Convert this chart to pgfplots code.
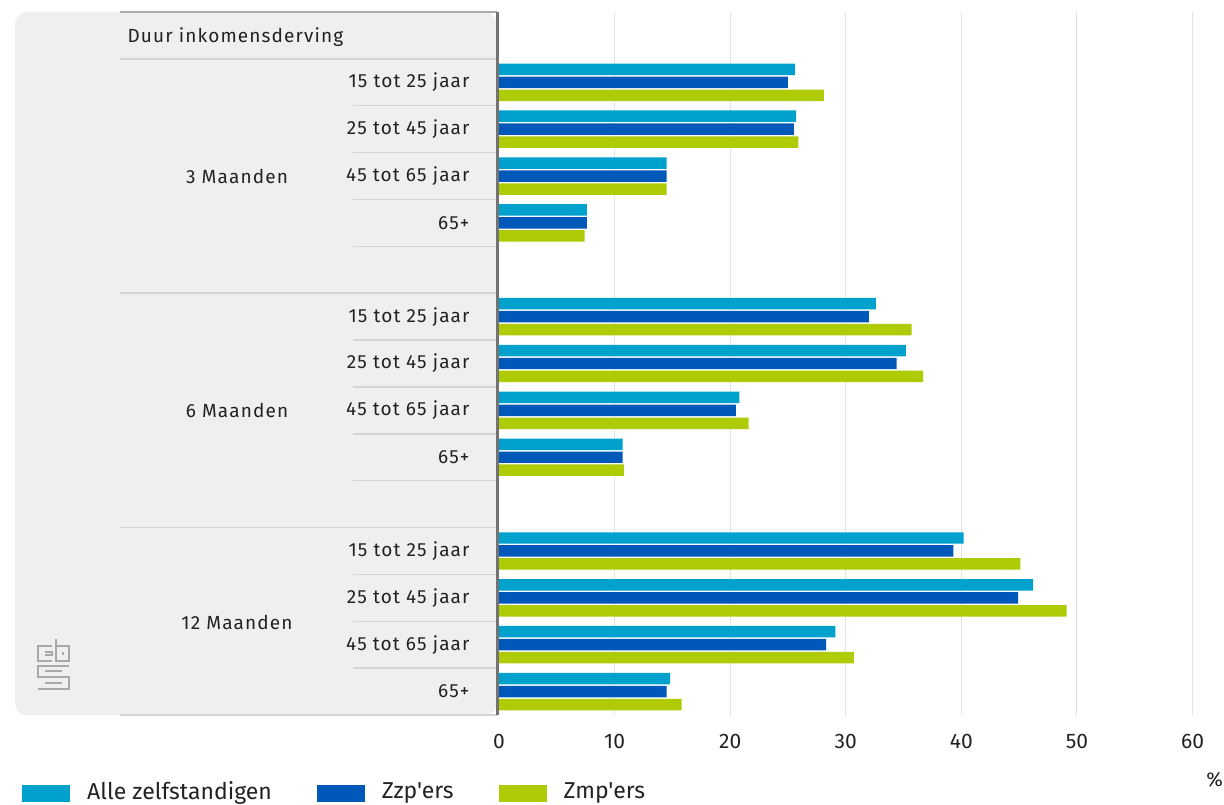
\documentclass[border=0pt]{standalone}
\usepackage{fontspec}
\setmainfont{Fira Sans}[LetterSpace=6]
\newfontfamily\plainfont{Fira Sans}
\usepackage{pgfplots}
\usepackage{pgfplotstable}
\pgfplotsset{compat=1.18}

\definecolor{cAlle}{HTML}{00A1CD}
\definecolor{cZzp}{HTML}{0058B8}
\definecolor{cZmp}{HTML}{AFCB05}
\definecolor{panel}{HTML}{EFEFEF}
\definecolor{sepc}{HTML}{D4D4D4}
\definecolor{gridc}{HTML}{E2E2E2}
\definecolor{txt}{HTML}{222222}
\definecolor{logoc}{HTML}{A8A8A8}

% pos = row slot (0-3: 3 maanden, 5-8: 6 maanden, 10-13: 12 maanden)
\pgfplotstableread{
pos alle zzp  zmp
0   25.6 25.0 28.1
1   25.7 25.5 25.9
2   14.5 14.5 14.5
3   7.6  7.6  7.4
5   32.6 32.0 35.7
6   35.2 34.4 36.7
7   20.8 20.5 21.6
8   10.7 10.7 10.8
10  40.2 39.3 45.1
11  46.2 44.9 49.1
12  29.1 28.3 30.7
13  14.8 14.5 15.8
}\data

\begin{document}
\begin{tikzpicture}[font=\fontsize{19}{22}\selectfont, text=txt]
\useasboundingbox (0,0) rectangle (1224pt,804pt);

% left panel (pixel coords, y downwards)
\begin{scope}[x=1pt,y=-1pt,yshift=804pt]
  \fill[panel, rounded corners=12pt] (15,12) rectangle (497,715);
  \draw[sepc!80!black, line width=1.5pt] (120,12) -- (497,12);
  \draw[sepc, line width=1.5pt] (120,715) -- (497,715);
  \foreach \yy in {59,293.2,527.6}
    \draw[sepc, line width=1.5pt] (120,\yy) -- (497,\yy);
  \foreach \yy in {105.7,152.6,199.5,246.4,340,387,433.8,480.7,574.4,621.3,668.2}
    \draw[sepc, line width=1.5pt] (353,\yy) -- (497,\yy);
  \node[anchor=west] at (124,37) {Duur inkomensderving};
  \node at (237,176) {3 Maanden};
  \node at (237,410) {6 Maanden};
  \node at (237,622) {12 Maanden};
  \node[anchor=east, inner sep=1pt, font=\plainfont\fontsize{20}{24}\selectfont] at (1224,780) {\%};
  % cbs logo
  \begin{scope}[logoc, line width=2.2pt]
    \draw (52,646) -- (38,646) -- (38,661) -- (52,661);
    \draw (45,652) -- (52,652) -- (52,655) -- (45,655);
    \draw (56,639) -- (56,661) -- (69,661) -- (69,646) -- (56,646);
    \draw (63,652) -- (63,655);
    \draw (69,666) -- (38,666) -- (38,677) -- (69,677) -- (69,689) -- (38,689);
    \draw (62,671) -- (45,671);
    \draw (45,683) -- (62,683);
  \end{scope}
\end{scope}

\begin{axis}[
  at={(499pt,792pt)}, anchor=north west,
  width=725pt, height=703pt, scale only axis,
  xbar, bar width=0.245,
  xmin=0, xmax=62.72, ymin=-1.5, ymax=13.5, y dir=reverse,
  xtick={0,10,...,60},
  ytick={0,1,2,3,5,6,7,8,10,11,12,13},
  yticklabels={15 tot 25 jaar,25 tot 45 jaar,45 tot 65 jaar,65+,
               15 tot 25 jaar,25 tot 45 jaar,45 tot 65 jaar,65+,
               15 tot 25 jaar,25 tot 45 jaar,45 tot 65 jaar,65+},
  axis line style={draw=none},
  major tick length=0pt,
  xmajorgrids, grid style={draw=gridc, line width=1pt},
  /pgf/number format/assume math mode=true,
  xticklabel style={yshift=-16pt, font=\plainfont\fontsize{21}{24}\selectfont},
  yticklabel style={xshift=-26pt},
  legend style={at={(axis description cs:-0.662,-0.108)}, anchor=west,
    draw=none, fill=none, legend columns=3,
    font=\plainfont\fontsize{23}{26}\selectfont,
    /tikz/every odd column/.append style={column sep=15pt},
    /tikz/every even column/.append style={column sep=43pt}},
  legend image code/.code={\fill[#1] (0pt,-11pt) rectangle (48pt,6pt);},
]
\addplot[draw=none, fill=cAlle, bar shift=-0.277] table[x=alle, y=pos] {\data};
\addplot[draw=none, fill=cZzp, bar shift=0] table[x=zzp, y=pos] {\data};
\addplot[draw=none, fill=cZmp, bar shift=0.277] table[x=zmp, y=pos] {\data};
\legend{Alle zelfstandigen, Zzp'ers, Zmp'ers}
\end{axis}

\begin{scope}[x=1pt,y=-1pt,yshift=804pt]
  \draw[black!55, line width=3pt] (497,12) -- (497,715);
\end{scope}
\end{tikzpicture}
\end{document}
